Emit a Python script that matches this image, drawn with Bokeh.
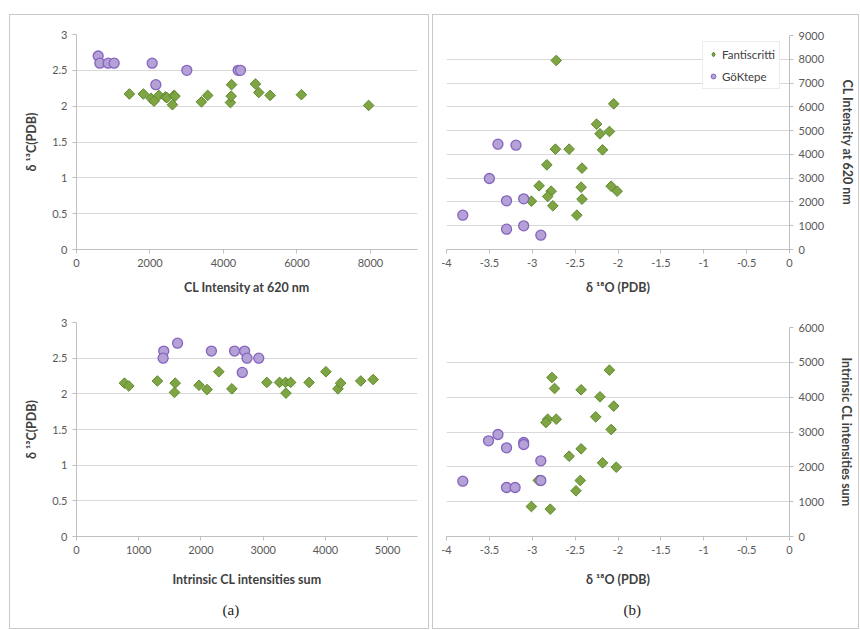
from bokeh.plotting import figure
from bokeh.layouts import row, column
from bokeh.models import Range1d, FixedTicker, NumeralTickFormatter, Title, Legend, LegendItem, Spacer
from bokeh.embed import file_html
from bokeh.resources import INLINE

# ---------------- data ----------------
# (a) top: delta13C vs CL intensity at 620 nm
fan_cl620_a = [1440, 1820, 2030, 2110, 2240, 2420, 2460, 2610, 2650, 2680,
               3400, 3570, 4190, 4210, 4220, 4870, 4960, 5270, 6120, 7950]
fan_d13c_a = [2.17, 2.17, 2.11, 2.07, 2.15, 2.13, 2.12, 2.02, 2.15, 2.14,
              2.06, 2.15, 2.05, 2.14, 2.30, 2.31, 2.19, 2.15, 2.16, 2.01]
gok_cl620_a = [590, 635, 862, 1025, 2059, 2159, 3002, 4399, 4463]
gok_d13c_a = [2.70, 2.60, 2.60, 2.60, 2.60, 2.30, 2.50, 2.50, 2.50]

# (a) bottom: delta13C vs intrinsic CL intensities sum
fan_sum_a = [771, 841, 1300, 1586, 1575, 1969, 2098, 2287, 2497, 3058,
             3263, 3360, 3366, 3441, 3738, 4008, 4202, 4245, 4568, 4768]
fan_d13c_a2 = [2.15, 2.11, 2.18, 2.15, 2.02, 2.12, 2.06, 2.31, 2.07, 2.16,
               2.16, 2.16, 2.01, 2.16, 2.16, 2.31, 2.07, 2.15, 2.18, 2.20]
gok_sum_a = [1402, 1392, 1624, 2168, 2540, 2702, 2740, 2929, 2664]
gok_d13c_a2 = [2.60, 2.50, 2.71, 2.60, 2.60, 2.60, 2.50, 2.50, 2.30]

# (b) top: CL intensity at 620 nm vs delta18O
fan_d18o_b = [-2.72, -2.05, -2.25, -2.21, -2.10, -2.73, -2.57, -2.18, -2.83, -2.42,
              -2.92, -2.43, -2.08, -2.01, -2.78, -2.82, -3.01, -2.42, -2.76, -2.48]
fan_cl620_b = [7950, 6126, 5271, 4865, 4963, 4220, 4220, 4192, 3561, 3421,
               2678, 2622, 2664, 2453, 2453, 2229, 2033, 2117, 1837, 1444]
gok_d18o_b = [-3.40, -3.19, -3.50, -3.30, -3.10, -3.81, -3.30, -3.10, -2.90]
gok_cl620_b = [4430, 4388, 2986, 2047, 2131, 1444, 855, 995, 603]

# (b) bottom: intrinsic CL intensities sum vs delta18O
fan_d18o_b2 = [-2.10, -2.77, -2.74, -2.43, -2.21, -2.05, -2.82, -2.84, -2.72, -2.26,
               -2.08, -2.43, -2.57, -2.18, -2.02, -2.44, -2.49, -3.01, -2.79, -2.93]
fan_sum_b = [4775, 4565, 4249, 4211, 4010, 3742, 3368, 3273, 3368, 3435,
             3072, 2517, 2306, 2115, 1990, 1608, 1311, 861, 785, 1610]
gok_d18o_b2 = [-3.51, -3.40, -3.30, -3.10, -3.10, -2.90, -2.90, -3.81, -3.30, -3.20]
gok_sum_b = [2746, 2928, 2545, 2699, 2641, 2172, 1608, 1589, 1407, 1407]

series_names = ["Fantiscritti", "GöKtepe"]

# ---------------- style ----------------
FONT = "Lato"
TICK_C = "#595959"
LABEL_C = "#404040"
AXIS_C = "#bfbfbf"
GRID_C = "#d9d9d9"
GREEN_F, GREEN_L = "#7fa443", "#5e8a2e"
PURPLE_F, PURPLE_L = "#b4a2d6", "#8663bf"
NAN = float("nan")


def style(p, xticks, yticks, xlabel, ylabel, xstand, ystand):
    p.xgrid.visible = False
    p.ygrid.grid_line_color = GRID_C
    p.ygrid.grid_line_width = 1
    p.outline_line_color = None
    p.background_fill_color = "white"
    p.border_fill_color = "white"
    for ax, ticks in ((p.xaxis[0], xticks), (p.yaxis[0], yticks)):
        ax.ticker = FixedTicker(ticks=ticks)
        ax.minor_tick_line_color = None
        ax.major_tick_out = 4
        ax.major_tick_in = 0
        ax.axis_line_color = AXIS_C
        ax.major_tick_line_color = AXIS_C
        ax.major_label_text_font = FONT
        ax.major_label_text_font_size = "11px"
        ax.major_label_text_color = TICK_C
        ax.major_label_standoff = 5
        ax.axis_label_text_font = FONT
        ax.axis_label_text_font_size = "12.5px"
        ax.axis_label_text_font_style = "bold"
        ax.axis_label_text_color = LABEL_C
        ax.formatter = NumeralTickFormatter(format="0.[0]")
    p.xaxis[0].axis_label = xlabel
    p.yaxis[0].axis_label = ylabel
    p.xaxis[0].axis_label_standoff = xstand
    p.yaxis[0].axis_label_standoff = ystand


def add_points(p, fx, fy, gx, gy):
    rf = p.scatter(fx, fy, marker="square", angle=0.7854, size=7.5,
                   fill_color=GREEN_F, line_color=GREEN_L, line_width=1)
    rg = p.scatter(gx, gy, marker="circle", size=10,
                   fill_color=PURPLE_F, line_color=PURPLE_L, line_width=1.3)
    return rf, rg


def panel_tag(p, text, offset):
    p.add_layout(Title(text=text, align="left", offset=offset, standoff=21,
                       text_font="Liberation Serif", text_font_size="15px",
                       text_font_style="normal", text_color="#222222"), "below")


common = dict(output_backend="svg", toolbar_location=None, tools="")

# top-left
p1 = figure(width=418, height=295, x_range=Range1d(0, 9280), y_range=Range1d(0, 3),
            min_border_left=64, min_border_right=11, min_border_top=19, min_border_bottom=61,
            **common)
style(p1, [0, 2000, 4000, 6000, 8000], [0, 0.5, 1, 1.5, 2, 2.5, 3],
      "CL Intensity at 620 nm", "δ ¹³C(PDB)", 10, 10)
add_points(p1, fan_cl620_a, fan_d13c_a, gok_cl620_a, gok_d13c_a)

# bottom-left
p3 = figure(width=418, height=318, x_range=Range1d(0, 5480), y_range=Range1d(0, 3),
            min_border_left=66, min_border_right=11, min_border_top=12, min_border_bottom=91,
            **common)
style(p3, [0, 1000, 2000, 3000, 4000, 5000], [0, 0.5, 1, 1.5, 2, 2.5, 3],
      "Intrinsic CL intensities sum", "δ ¹³C(PDB)", 15, 10)
add_points(p3, fan_sum_a, fan_d13c_a2, gok_sum_a, gok_d13c_a2)
panel_tag(p3, "(a)", 146)

xt_b = [-4, -3.5, -3, -2.5, -2, -1.5, -1, -0.5, 0]

# top-right
p2 = figure(width=425, height=295, x_range=Range1d(-4, 0), y_range=Range1d(0, 9000),
            y_axis_location="right",
            min_border_left=13, min_border_right=62, min_border_top=20, min_border_bottom=61,
            **common)
style(p2, xt_b, list(range(0, 9001, 1000)), "δ ¹⁸O (PDB)", "CL Intensity at 620 nm", 10, 13)
add_points(p2, fan_d18o_b, fan_cl620_b, gok_d18o_b, gok_cl620_b)
# legend-only renderers (a single NaN point, never drawn in the plot area)
lf = p2.scatter([NAN], [NAN], marker="diamond", size=11, fill_color=GREEN_F, line_color=GREEN_L)
lg = p2.scatter([NAN], [NAN], marker="circle", size=9, fill_color=PURPLE_F, line_color=PURPLE_L)
leg = Legend(items=[LegendItem(label=series_names[0], renderers=[lf]),
                    LegendItem(label=series_names[1], renderers=[lg])],
             location=(256, 160), orientation="vertical",
             label_text_font=FONT, label_text_font_size="11.5px", label_text_color=LABEL_C,
             glyph_width=12, glyph_height=16, label_height=16, spacing=6, padding=4,
             label_standoff=3, border_line_color=GRID_C, background_fill_alpha=1,
             margin=0)
p2.add_layout(leg, "center")

# bottom-right
p4 = figure(width=425, height=318, x_range=Range1d(-4, 0), y_range=Range1d(0, 6000),
            y_axis_location="right",
            min_border_left=11, min_border_right=58, min_border_top=17, min_border_bottom=92,
            **common)
style(p4, xt_b, list(range(0, 6001, 1000)), "δ ¹⁸O (PDB)", "Intrinsic CL intensities sum", 15, 12)
add_points(p4, fan_d18o_b2, fan_sum_b, gok_d18o_b2, gok_sum_b)
panel_tag(p4, "(b)", 177)

box_style = {"border": "1px solid #c9c9c9"}
colA = column(p1, p3, styles=box_style)
colB = column(p2, p4, styles=box_style)
layout = column(Spacer(height=14), row(Spacer(width=9), colA, Spacer(width=3), colB))

open("out.html", "w").write(file_html(layout, INLINE))
